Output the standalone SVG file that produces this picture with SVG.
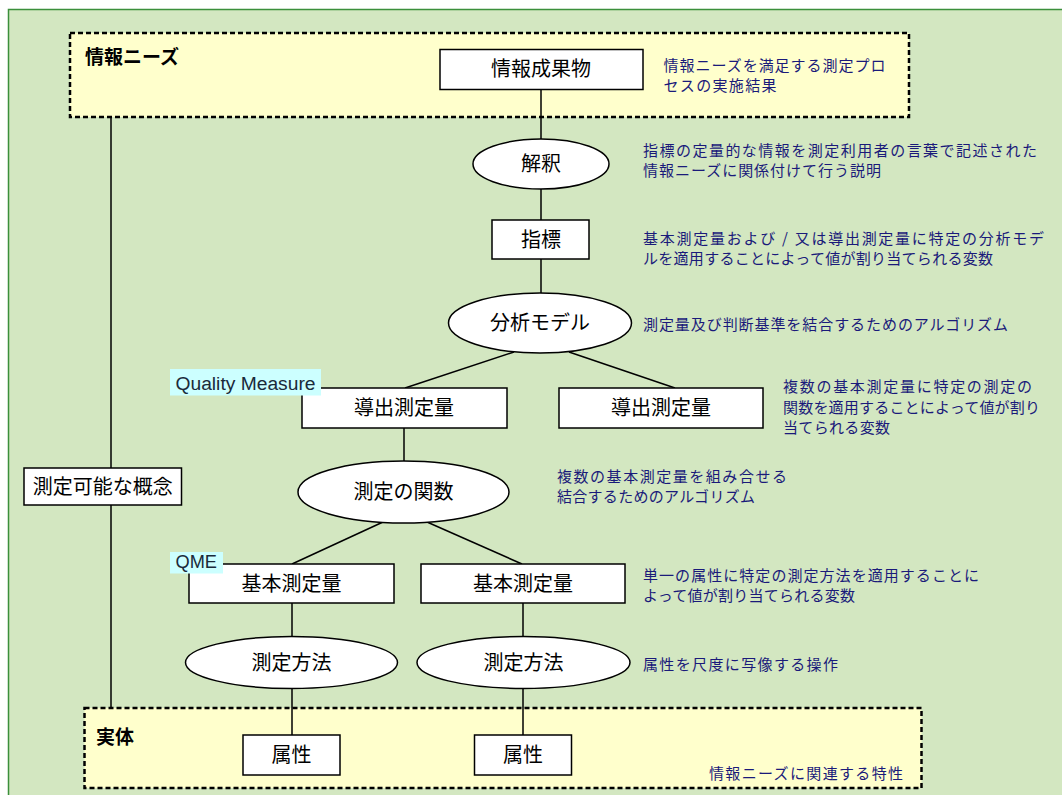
<svg xmlns="http://www.w3.org/2000/svg" width="1062" height="795" viewBox="0 0 1062 795">
<style>
.bg{fill:#d3e7c1;stroke:#3b8f3b;stroke-width:1.5}
.zone{fill:#ffffcc;stroke:#000;stroke-width:2.5;stroke-dasharray:5 3}
.box{fill:#fff;stroke:#000;stroke-width:1.5}
.tag{fill:#ccffff;stroke:none}
.ln{stroke:#000;stroke-width:1.5;fill:none}
.nt{font-family:"Noto Sans CJK JP","Liberation Sans",sans-serif;font-size:20px;fill:#000;text-anchor:middle}
.zt{font-family:"Noto Sans CJK JP","Liberation Sans",sans-serif;font-size:19px;fill:#000;font-weight:bold}
.dt{font-family:"Noto Sans CJK JP","Liberation Sans",sans-serif;font-size:15px;fill:#1a1a7a}
.tt{font-family:"Liberation Sans","Noto Sans",sans-serif;font-size:18px;fill:#1a2a3a}
</style>
<rect class="bg" x="8.5" y="9.5" width="1070" height="800"/>
<g id="zone-needs">
<rect class="zone" x="70" y="33" width="839" height="84"/>
<text class="zt" x="85" y="64">情報ニーズ</text>
</g>
<g id="zone-entity">
<rect class="zone" x="84.5" y="708" width="837" height="80"/>
<text class="zt" x="96" y="744">実体</text>
</g>
<g id="connectors">
<line class="ln" x1="111" y1="117" x2="111" y2="468"/>
<line class="ln" x1="111" y1="505" x2="111" y2="708"/>
<line class="ln" x1="541" y1="89" x2="541" y2="139"/>
<line class="ln" x1="541" y1="189" x2="541" y2="220"/>
<line class="ln" x1="541" y1="259" x2="541" y2="293"/>
<line class="ln" x1="514" y1="352" x2="405" y2="388"/>
<line class="ln" x1="569" y1="352" x2="675" y2="388"/>
<line class="ln" x1="404" y1="428" x2="404" y2="461"/>
<line class="ln" x1="383" y1="522" x2="292" y2="564"/>
<line class="ln" x1="427" y1="522" x2="522" y2="564"/>
<line class="ln" x1="292" y1="603" x2="292" y2="637"/>
<line class="ln" x1="292" y1="688" x2="292" y2="735"/>
<line class="ln" x1="523" y1="603" x2="523" y2="637"/>
<line class="ln" x1="523" y1="688" x2="523" y2="735"/>
</g>
<g id="n-result">
<rect class="box" x="440" y="49.5" width="203" height="40"/>
<text class="nt" x="541" y="76">情報成果物</text>
<text class="dt" x="663.5" y="71" textLength="222" lengthAdjust="spacing">情報ニーズを満足する測定プロ</text>
<text class="dt" x="663.5" y="91" textLength="113" lengthAdjust="spacing">セスの実施結果</text>
</g>
<g id="n-interp">
<ellipse class="box" cx="541" cy="164" rx="68" ry="25"/>
<text class="nt" x="541" y="171">解釈</text>
<text class="dt" x="643" y="156" textLength="394" lengthAdjust="spacing">指標の定量的な情報を測定利用者の言葉で記述された</text>
<text class="dt" x="643" y="176" textLength="238" lengthAdjust="spacing">情報ニーズに関係付けて行う説明</text>
</g>
<g id="n-indicator">
<rect class="box" x="492" y="220" width="97" height="39"/>
<text class="nt" x="541" y="247">指標</text>
<text class="dt" x="643" y="244" textLength="401" lengthAdjust="spacing">基本測定量および / 又は導出測定量に特定の分析モデ</text>
<text class="dt" x="643" y="264" textLength="350" lengthAdjust="spacing">ルを適用することによって値が割り当てられる変数</text>
</g>
<g id="n-model">
<ellipse class="box" cx="540" cy="323" rx="91.5" ry="30"/>
<text class="nt" x="540" y="330">分析モデル</text>
<text class="dt" x="643" y="330" textLength="365" lengthAdjust="spacing">測定量及び判断基準を結合するためのアルゴリズム</text>
</g>
<g id="n-derived1">
<rect class="box" x="302" y="388" width="205" height="40"/>
<text class="nt" x="404" y="415">導出測定量</text>
<rect class="tag" x="170" y="369" width="151" height="26.5"/>
<text class="tt" x="175.5" y="390" textLength="140" lengthAdjust="spacingAndGlyphs">Quality Measure</text>
</g>
<g id="n-derived2">
<rect class="box" x="559" y="388" width="204" height="40"/>
<text class="nt" x="661" y="415">導出測定量</text>
<text class="dt" x="783" y="392" textLength="249" lengthAdjust="spacing">複数の基本測定量に特定の測定の</text>
<text class="dt" x="783" y="413" textLength="257" lengthAdjust="spacing">関数を適用することによって値が割り</text>
<text class="dt" x="783" y="433" textLength="107" lengthAdjust="spacing">当てられる変数</text>
</g>
<g id="n-concept">
<rect class="box" x="24" y="468" width="157.5" height="37"/>
<text class="nt" x="102.7" y="493.5">測定可能な概念</text>
</g>
<g id="n-function">
<ellipse class="box" cx="403.5" cy="492" rx="105.5" ry="31"/>
<text class="nt" x="403.5" y="499">測定の関数</text>
<text class="dt" x="557" y="482" textLength="230" lengthAdjust="spacing">複数の基本測定量を組み合せる</text>
<text class="dt" x="557" y="502" textLength="198" lengthAdjust="spacing">結合するためのアルゴリズム</text>
</g>
<g id="n-base1">
<rect class="box" x="189" y="564" width="205" height="39"/>
<text class="nt" x="291.5" y="590.5">基本測定量</text>
<rect class="tag" x="170" y="552" width="53" height="21.5"/>
<text class="tt" x="175.5" y="567.5" textLength="41.5" lengthAdjust="spacingAndGlyphs">QME</text>
</g>
<g id="n-base2">
<rect class="box" x="421" y="564" width="204" height="39"/>
<text class="nt" x="523" y="590.5">基本測定量</text>
<text class="dt" x="643" y="581" textLength="336" lengthAdjust="spacing">単一の属性に特定の測定方法を適用することに</text>
<text class="dt" x="643" y="601" textLength="212" lengthAdjust="spacing">よって値が割り当てられる変数</text>
</g>
<g id="n-method1">
<ellipse class="box" cx="291.5" cy="662.5" rx="106" ry="26"/>
<text class="nt" x="291.5" y="669.5">測定方法</text>
</g>
<g id="n-method2">
<ellipse class="box" cx="523.5" cy="662.5" rx="106.5" ry="26"/>
<text class="nt" x="523.5" y="669.5">測定方法</text>
<text class="dt" x="643" y="670" textLength="195" lengthAdjust="spacing">属性を尺度に写像する操作</text>
</g>
<g id="n-attr1">
<rect class="box" x="243" y="735" width="97" height="40"/>
<text class="nt" x="291.5" y="762">属性</text>
</g>
<g id="n-attr2">
<rect class="box" x="474.5" y="735" width="97" height="40"/>
<text class="nt" x="523" y="762">属性</text>
<text class="dt" x="709" y="779" textLength="194" lengthAdjust="spacing">情報ニーズに関連する特性</text>
</g>
</svg>
